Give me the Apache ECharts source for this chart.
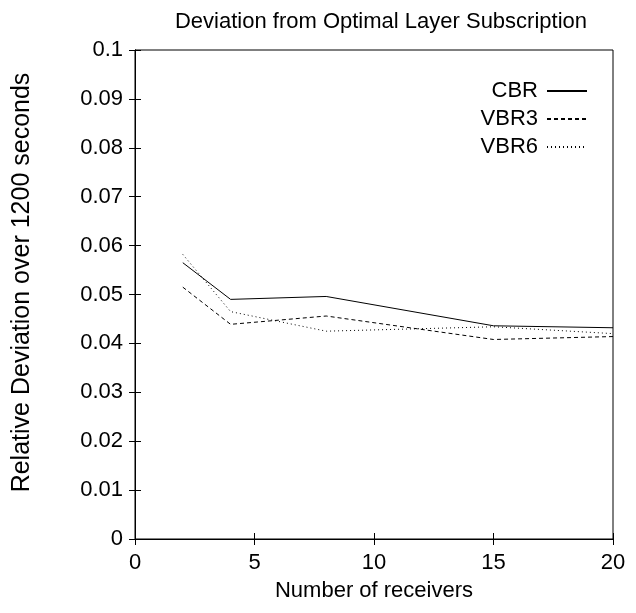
<!DOCTYPE html>
<html>
<head>
<meta charset="utf-8">
<script src="https://cdn.jsdelivr.net/npm/echarts@6/dist/echarts.min.js"></script>
<style>
  html, body { margin: 0; padding: 0; background: #fff; }
  #chart { width: 636px; height: 613px; }
</style>
</head>
<body>
<div id="chart"></div>
<script>
const receivers = [2, 4, 8, 15, 20];
const cbr = [0.0565, 0.0490, 0.0496, 0.0436, 0.0432];
const vbr3 = [0.0515, 0.0439, 0.0456, 0.0408, 0.0414];
const vbr6 = [0.0582, 0.0465, 0.0425, 0.0434, 0.0420];
const yTicks = [0, 0.01, 0.02, 0.03, 0.04, 0.05, 0.06, 0.07, 0.08, 0.09, 0.1];

const font = '"Liberation Sans", Arial, sans-serif';

const pairs = (ys) => receivers.map((x, i) => [x, ys[i]]);

const line = (name, ys, type) => ({
  name: name,
  type: 'line',
  data: pairs(ys),
  symbol: 'none',
  lineStyle: { color: '#000', width: 1, type: type },
  itemStyle: { color: '#000' },
  animation: false
});

const chart = echarts.init(document.getElementById('chart'));
chart.setOption({
  backgroundColor: '#fff',
  title: {
    text: 'Deviation from Optimal Layer Subscription',
    left: 376, top: 6, textAlign: 'center',
    textStyle: { fontFamily: font, fontSize: 22, fontWeight: 'normal', color: '#000' }
  },
  grid: { left: 135, right: 23, top: 50, bottom: 74, show: true, borderColor: '#000', borderWidth: 1 },
  legend: {
    orient: 'vertical', align: 'right', right: 43, top: 75,
    itemWidth: 40, itemHeight: 14, itemGap: 6,
    itemStyle: { opacity: 0 },
    textStyle: { fontFamily: font, fontSize: 22, color: '#000', padding: [0, 4, 0, 0] },
    data: ['CBR', 'VBR3', 'VBR6']
  },
  xAxis: [{
    type: 'value', min: 0, max: 20, interval: 5,
    name: 'Number of receivers', nameLocation: 'middle', nameGap: 41,
    nameTextStyle: { fontFamily: font, fontSize: 22, color: '#000' },
    axisLine: { lineStyle: { color: '#000' } },
    axisTick: { inside: true, length: 6, lineStyle: { color: '#000' } },
    axisLabel: { fontFamily: font, fontSize: 22, color: '#000', margin: 13 },
    splitLine: { show: false }
  }, {
    type: 'value', min: 0, max: 20, interval: 5, position: 'top',
    axisLine: { lineStyle: { color: '#000' } },
    axisTick: { inside: true, length: 6, lineStyle: { color: '#000' } },
    axisLabel: { show: false }, splitLine: { show: false }
  }],
  yAxis: [{
    type: 'value', min: 0, max: 0.1, interval: 0.01,
    name: 'Relative Deviation over 1200 seconds', nameLocation: 'middle', nameGap: 100,
    nameTextStyle: { fontFamily: font, fontSize: 25, color: '#000', padding: [0, 0, 0, 24] },
    axisLine: { lineStyle: { color: '#000' } },
    axisTick: { inside: true, length: 6, lineStyle: { color: '#000' } },
    axisLabel: {
      fontFamily: font, fontSize: 22, color: '#000', margin: 12,
      formatter: (v) => {
        const t = yTicks.find(k => Math.abs(k - v) < 1e-9);
        return t === undefined ? '' : String(+t.toFixed(2));
      }
    },
    splitLine: { show: false }
  }, {
    type: 'value', min: 0, max: 0.1, interval: 0.01, position: 'right',
    axisLine: { lineStyle: { color: '#000' } },
    axisTick: { inside: true, length: 6, lineStyle: { color: '#000' } },
    axisLabel: { show: false }, splitLine: { show: false }
  }],
  series: [
    line('CBR', cbr, 'solid'),
    line('VBR3', vbr3, [4, 3]),
    line('VBR6', vbr6, [1, 3])
  ]
});
</script>
</body>
</html>
